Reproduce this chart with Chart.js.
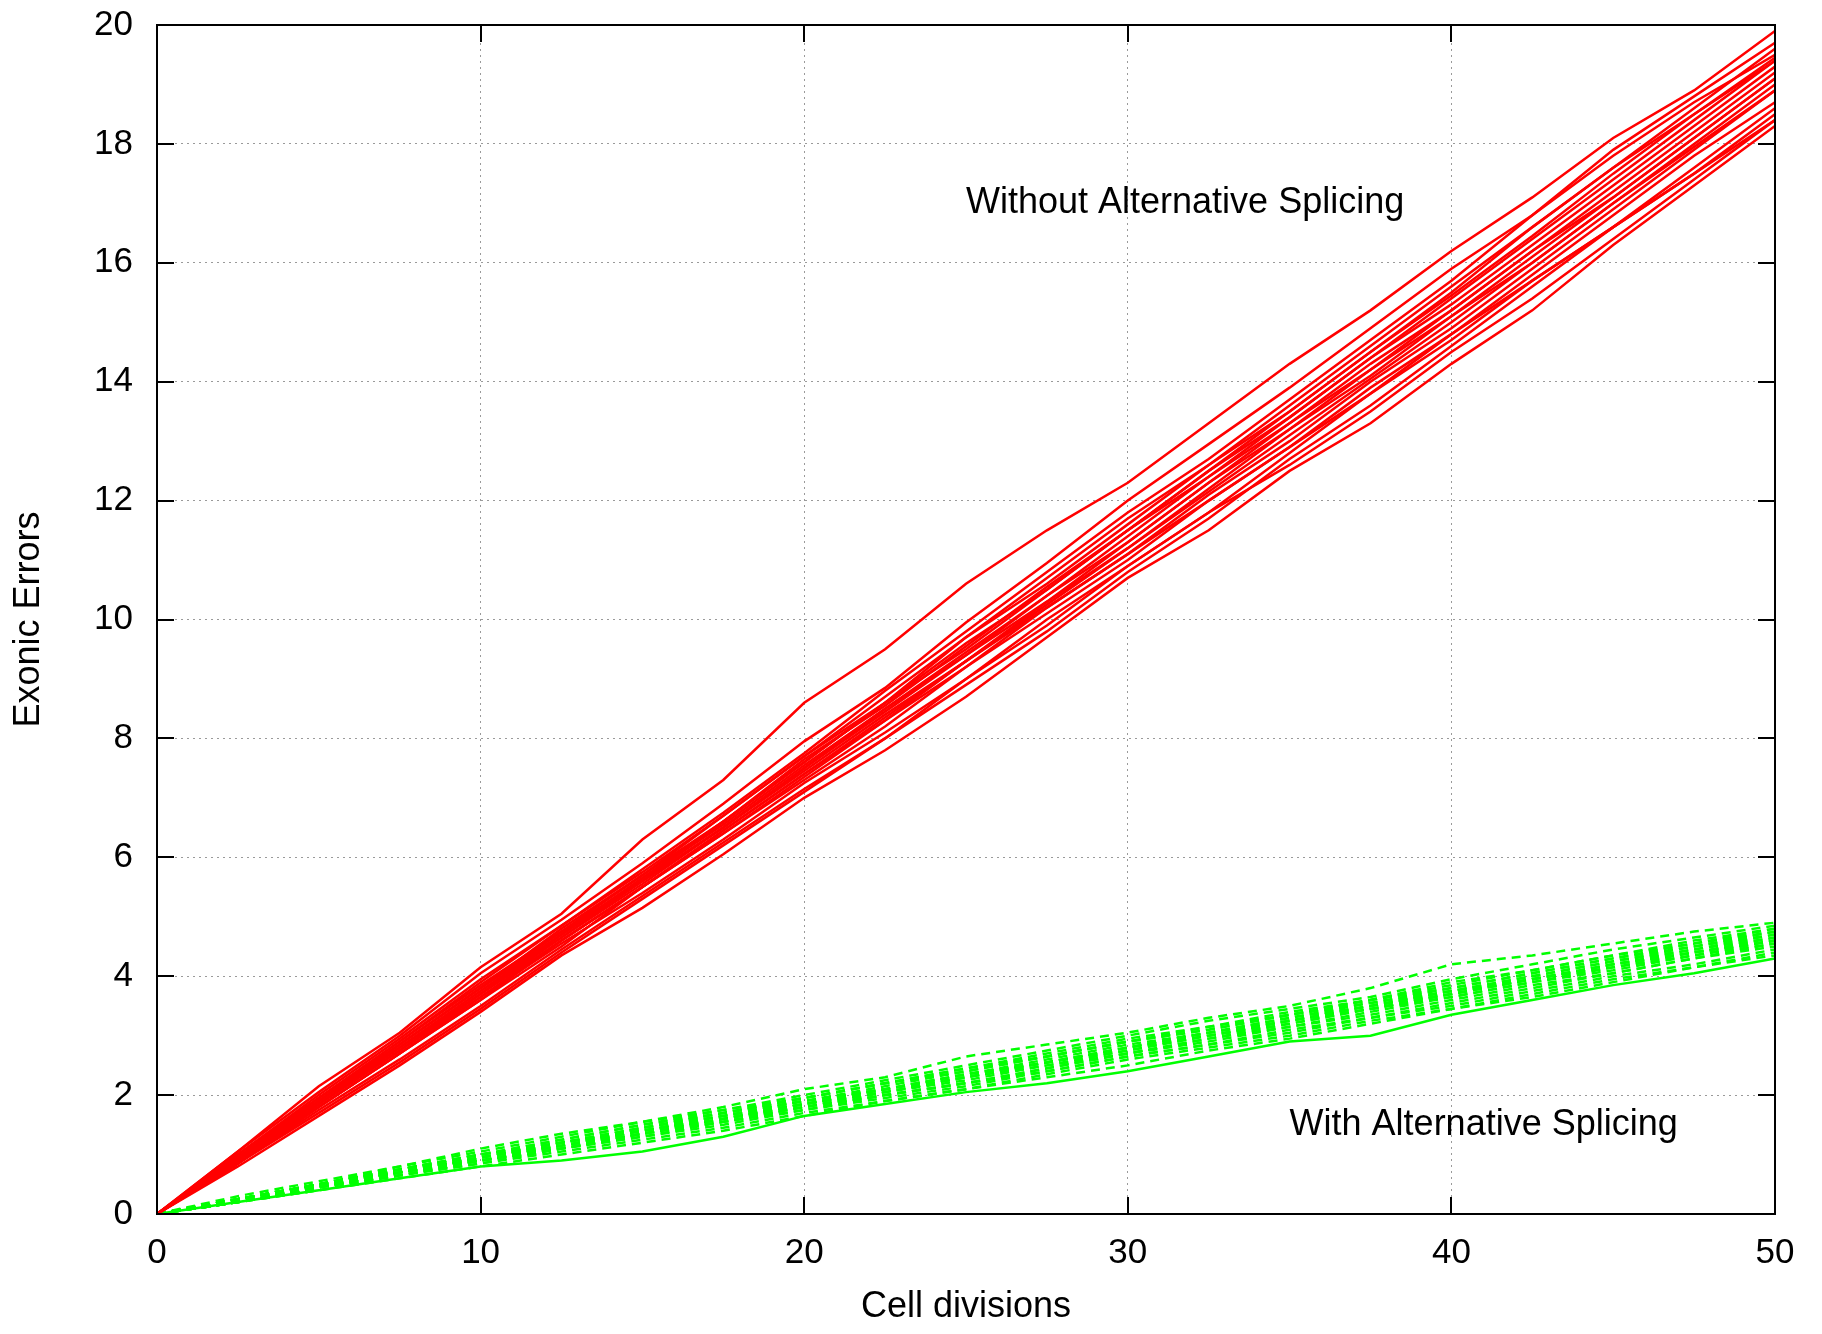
<!DOCTYPE html>
<html>
<head>
<meta charset="utf-8">
<script src="https://cdn.jsdelivr.net/npm/chart.js@4.4.0/dist/chart.umd.min.js"></script>
<style>
html,body{margin:0;padding:0;background:#fff;}
#wrap{width:1822px;height:1334px;position:relative;}
</style>
</head>
<body>
<div id="wrap"><canvas id="c" width="1822" height="1334"></canvas></div>
<script>
// ---------- DATA ----------
const divisions = [0, 2.5, 5, 7.5, 10, 12.5, 15, 17.5, 20, 22.5, 25, 27.5, 30, 32.5, 35, 37.5, 40, 42.5, 45, 47.5, 50];

// Runs without alternative splicing (red, solid)
const withoutSplicing = [
  [0, 1.05, 2.15, 3.05, 4.15, 5.05, 6.3, 7.3, 8.6, 9.5, 10.6, 11.5, 12.3, 13.3, 14.3, 15.2, 16.2, 17.1, 18.1, 18.9, 19.9],
  [0, 1.05, 2.05, 3.0, 4.05, 4.95, 5.9, 6.9, 7.95, 8.85, 9.95, 10.95, 12.0, 12.95, 13.9, 14.9, 15.9, 16.8, 17.9, 18.8, 19.7],
  [0, 0.95, 1.9, 2.85, 3.8, 4.8, 5.7, 6.7, 7.7, 8.6, 9.7, 10.7, 11.7, 12.6, 13.5, 14.5, 15.5, 16.6, 17.6, 18.5, 19.4],
  [0, 0.9, 1.9, 2.8, 3.7, 4.7, 5.6, 6.6, 7.6, 8.6, 9.6, 10.5, 11.5, 12.5, 13.4, 14.4, 15.3, 16.3, 17.3, 18.3, 19.3],
  [0, 1.0, 1.95, 2.9, 3.85, 4.75, 5.6, 6.5, 7.5, 8.5, 9.4, 10.3, 11.3, 12.3, 13.3, 14.3, 15.2, 16.2, 17.1, 18.1, 19.1],
  [0, 0.9, 1.85, 2.75, 3.7, 4.6, 5.5, 6.45, 7.4, 8.3, 9.3, 10.3, 11.2, 12.2, 13.2, 14.1, 15.1, 16.0, 17.0, 18.0, 19.0],
  [0, 0.95, 1.9, 2.8, 3.75, 4.65, 5.6, 6.5, 7.45, 8.4, 9.3, 10.2, 11.1, 12.1, 13.0, 14.0, 14.9, 15.9, 16.9, 17.9, 18.9],
  [0, 0.85, 1.8, 2.7, 3.6, 4.6, 5.5, 6.4, 7.3, 8.2, 9.2, 10.2, 11.1, 12.0, 12.9, 13.9, 14.8, 15.8, 16.8, 17.8, 18.7],
  [0, 0.9, 1.8, 2.7, 3.65, 4.55, 5.4, 6.3, 7.25, 8.1, 9.0, 9.9, 10.9, 11.8, 12.8, 13.8, 14.8, 15.7, 16.6, 17.6, 18.6],
  [0, 0.85, 1.75, 2.6, 3.5, 4.45, 5.35, 6.25, 7.15, 8.0, 8.9, 9.8, 10.8, 11.7, 12.7, 13.6, 14.6, 15.6, 16.6, 17.5, 18.5],
  [0, 0.8, 1.65, 2.5, 3.4, 4.35, 5.15, 6.05, 7.0, 7.8, 8.7, 9.7, 10.7, 11.5, 12.5, 13.3, 14.3, 15.2, 16.3, 17.3, 18.3],
  [0, 0.95, 1.9, 2.85, 3.8, 4.75, 5.7, 6.6, 7.6, 8.6, 9.5, 10.5, 11.5, 12.4, 13.4, 14.4, 15.4, 16.4, 17.4, 18.4, 19.4],
  [0, 0.9, 1.85, 2.8, 3.75, 4.7, 5.65, 6.55, 7.55, 8.5, 9.45, 10.4, 11.4, 12.4, 13.3, 14.2, 15.1, 16.1, 17.1, 18.1, 19.1],
  [0, 1.0, 2.0, 2.95, 3.95, 4.85, 5.75, 6.7, 7.7, 8.7, 9.7, 10.6, 11.6, 12.6, 13.6, 14.6, 15.6, 16.6, 17.6, 18.6, 19.6],
  [0, 0.85, 1.8, 2.7, 3.6, 4.5, 5.5, 6.4, 7.35, 8.3, 9.2, 10.1, 11.0, 12.0, 12.9, 13.8, 14.7, 15.7, 16.6, 17.5, 18.4],
  [0, 0.9, 1.85, 2.75, 3.7, 4.65, 5.55, 6.5, 7.5, 8.45, 9.4, 10.4, 11.3, 12.3, 13.2, 14.2, 15.2, 16.2, 17.2, 18.2, 19.2],
  [0, 0.95, 1.95, 2.9, 3.9, 4.85, 5.8, 6.75, 7.75, 8.8, 9.8, 10.8, 11.8, 12.7, 13.7, 14.7, 15.7, 16.8, 17.8, 18.7, 19.5],
  [0, 0.85, 1.7, 2.55, 3.45, 4.4, 5.3, 6.2, 7.1, 8.0, 9.0, 10.0, 10.9, 11.8, 12.6, 13.5, 14.5, 15.4, 16.4, 17.4, 18.4],
  [0, 1.0, 1.95, 2.85, 3.8, 4.7, 5.65, 6.6, 7.65, 8.55, 9.55, 10.55, 11.5, 12.5, 13.5, 14.5, 15.45, 16.45, 17.5, 18.5, 19.45],
  [0, 0.85, 1.85, 2.75, 3.65, 4.6, 5.5, 6.45, 7.4, 8.35, 9.3, 10.25, 11.2, 12.15, 13.1, 14.05, 15.0, 16.0, 17.0, 17.95, 18.9]
];

// Runs with alternative splicing (green, dashed)
const withSplicing = [
  [0, 0.3, 0.55, 0.8, 1.1, 1.35, 1.55, 1.8, 2.1, 2.3, 2.65, 2.85, 3.05, 3.3, 3.5, 3.8, 4.2, 4.35, 4.55, 4.75, 4.9],
  [0, 0.25, 0.5, 0.8, 1.05, 1.3, 1.55, 1.75, 2.0, 2.25, 2.5, 2.75, 3.0, 3.25, 3.45, 3.65, 3.95, 4.2, 4.45, 4.65, 4.85],
  [0, 0.25, 0.5, 0.75, 1.0, 1.25, 1.5, 1.75, 1.95, 2.2, 2.45, 2.7, 2.95, 3.15, 3.35, 3.6, 3.85, 4.1, 4.35, 4.6, 4.8],
  [0, 0.25, 0.5, 0.75, 0.95, 1.2, 1.45, 1.7, 1.9, 2.15, 2.4, 2.65, 2.9, 3.1, 3.35, 3.55, 3.8, 4.05, 4.3, 4.5, 4.75],
  [0, 0.2, 0.45, 0.7, 0.95, 1.2, 1.4, 1.65, 1.9, 2.1, 2.35, 2.6, 2.85, 3.05, 3.3, 3.5, 3.75, 4.0, 4.25, 4.45, 4.7],
  [0, 0.25, 0.5, 0.75, 1.0, 1.2, 1.45, 1.65, 1.85, 2.1, 2.35, 2.55, 2.8, 3.05, 3.25, 3.5, 3.7, 3.95, 4.2, 4.45, 4.65],
  [0, 0.2, 0.45, 0.7, 0.9, 1.15, 1.4, 1.6, 1.85, 2.05, 2.3, 2.5, 2.75, 3.0, 3.2, 3.45, 3.7, 3.95, 4.15, 4.4, 4.6],
  [0, 0.25, 0.5, 0.7, 0.95, 1.15, 1.35, 1.6, 1.8, 2.05, 2.25, 2.5, 2.7, 2.95, 3.15, 3.4, 3.65, 3.9, 4.1, 4.35, 4.55],
  [0, 0.2, 0.45, 0.7, 0.9, 1.1, 1.35, 1.55, 1.8, 2.0, 2.2, 2.45, 2.7, 2.9, 3.15, 3.35, 3.6, 3.85, 4.05, 4.3, 4.5],
  [0, 0.2, 0.45, 0.65, 0.85, 1.1, 1.3, 1.5, 1.75, 1.95, 2.15, 2.4, 2.65, 2.85, 3.05, 3.3, 3.5, 3.75, 4.0, 4.2, 4.45],
  [0, 0.2, 0.4, 0.6, 0.8, 0.9, 1.05, 1.3, 1.65, 1.85, 2.05, 2.2, 2.4, 2.65, 2.9, 3.0, 3.35, 3.6, 3.85, 4.05, 4.3],
  [0, 0.2, 0.4, 0.6, 0.8, 1.0, 1.2, 1.4, 1.65, 1.9, 2.1, 2.3, 2.5, 2.75, 2.95, 3.2, 3.45, 3.7, 3.95, 4.15, 4.35],
  [0, 0.25, 0.5, 0.75, 1.0, 1.25, 1.5, 1.7, 1.95, 2.2, 2.45, 2.65, 2.9, 3.15, 3.4, 3.6, 3.9, 4.1, 4.35, 4.55, 4.8],
  [0, 0.25, 0.5, 0.7, 0.95, 1.2, 1.4, 1.65, 1.9, 2.1, 2.35, 2.55, 2.8, 3.05, 3.3, 3.55, 3.75, 4.0, 4.25, 4.5, 4.7],
  [0, 0.2, 0.45, 0.65, 0.9, 1.1, 1.35, 1.55, 1.8, 2.0, 2.2, 2.45, 2.7, 2.95, 3.2, 3.45, 3.65, 3.9, 4.15, 4.35, 4.6],
  [0, 0.2, 0.4, 0.65, 0.85, 1.05, 1.25, 1.45, 1.7, 1.9, 2.1, 2.35, 2.6, 2.8, 3.0, 3.25, 3.45, 3.65, 3.9, 4.15, 4.4],
  [0, 0.25, 0.5, 0.75, 1.0, 1.2, 1.45, 1.7, 1.95, 2.2, 2.4, 2.65, 2.9, 3.1, 3.35, 3.6, 3.8, 4.05, 4.3, 4.55, 4.75],
  [0, 0.2, 0.45, 0.7, 0.9, 1.15, 1.35, 1.6, 1.85, 2.05, 2.3, 2.55, 2.75, 3.0, 3.25, 3.45, 3.7, 3.95, 4.2, 4.4, 4.65],
  [0, 0.25, 0.5, 0.7, 0.95, 1.15, 1.4, 1.6, 1.85, 2.1, 2.3, 2.55, 2.8, 3.0, 3.25, 3.5, 3.75, 3.95, 4.2, 4.4, 4.6],
  [0, 0.2, 0.45, 0.65, 0.9, 1.1, 1.3, 1.55, 1.75, 2.0, 2.2, 2.4, 2.65, 2.85, 3.1, 3.3, 3.55, 3.8, 4.05, 4.3, 4.55]
];
const solidGreenRuns = [10];

const labelTexts = ["Without Alternative Splicing", "With Alternative Splicing"];
const labelX = [25, 35];
const labelY = [17, 1.5];

const xTitle = "Cell divisions";
const yTitle = "Exonic Errors";

// ---------- CHART ----------
const FONT = '"Liberation Sans", Arial, Helvetica, sans-serif';

const datasets = [];
withoutSplicing.forEach((run, i) => {
  datasets.push({
    label: 'without ' + (i + 1),
    data: divisions.map((d, k) => ({x: d, y: run[k]})),
    borderColor: '#ff0000',
    borderWidth: 2.5,
    pointRadius: 0,
    tension: 0,
    fill: false
  });
});
withSplicing.forEach((run, i) => {
  datasets.push({
    label: 'with ' + (i + 1),
    data: divisions.map((d, k) => ({x: d, y: run[k]})),
    borderColor: '#00ff00',
    borderWidth: 2.5,
    borderDash: solidGreenRuns.includes(i) ? [] : [9, 6],
    pointRadius: 0,
    tension: 0,
    fill: false
  });
});

const framePlugin = {
  id: 'frame',
  afterDraw(chart) {
    const {ctx, chartArea: a, scales: {x, y}} = chart;
    ctx.save();
    ctx.strokeStyle = '#000';
    ctx.lineWidth = 2;
    const tl = 17;
    ctx.beginPath();
    y.ticks.forEach(t => {
      const py = Math.round(y.getPixelForValue(t.value));
      ctx.moveTo(a.left, py); ctx.lineTo(a.left + tl, py);
      ctx.moveTo(a.right, py); ctx.lineTo(a.right - tl, py);
    });
    x.ticks.forEach(t => {
      const px = Math.round(x.getPixelForValue(t.value));
      ctx.moveTo(px, a.bottom); ctx.lineTo(px, a.bottom - tl);
      ctx.moveTo(px, a.top); ctx.lineTo(px, a.top + tl);
    });
    ctx.stroke();
    ctx.strokeRect(a.left, a.top, a.right - a.left, a.bottom - a.top);
    ctx.fillStyle = '#000';
    ctx.font = '36px ' + FONT;
    ctx.textAlign = 'left';
    ctx.textBaseline = 'middle';
    labelTexts.forEach((txt, i) => {
      ctx.fillText(txt, x.getPixelForValue(labelX[i]), y.getPixelForValue(labelY[i]));
    });
    ctx.restore();
  }
};

new Chart(document.getElementById('c'), {
  type: 'line',
  data: {datasets},
  options: {
    responsive: false,
    animation: false,
    devicePixelRatio: 1,
    layout: {padding: {left: 0, right: 47, top: 25, bottom: 0}},
    plugins: {legend: {display: false}, tooltip: {enabled: false}},
    scales: {
      x: {
        type: 'linear',
        min: 0, max: 50,
        afterFit: s => { s.height = 120; s.paddingLeft = 0; s.paddingRight = 0; },
        ticks: {stepSize: 10, color: '#000', font: {family: FONT, size: 35}, padding: 18, maxRotation: 0},
        grid: {color: '#9a9a9a', lineWidth: 1, drawTicks: false},
        border: {display: false, dash: [2, 4]},
        title: {display: true, text: xTitle, color: '#000', font: {family: FONT, size: 36}, padding: {top: 0, bottom: 5}}
      },
      y: {
        type: 'linear',
        min: 0, max: 20,
        afterFit: s => { s.width = 157; s.paddingTop = 0; s.paddingBottom = 0; },
        ticks: {stepSize: 2, color: '#000', font: {family: FONT, size: 35}, padding: 24},
        grid: {color: '#9a9a9a', lineWidth: 1, drawTicks: false},
        border: {display: false, dash: [2, 4]},
        title: {display: true, text: yTitle, color: '#000', font: {family: FONT, size: 36}, padding: {top: 7, bottom: 0}}
      }
    }
  },
  plugins: [framePlugin]
});
</script>
</body>
</html>
